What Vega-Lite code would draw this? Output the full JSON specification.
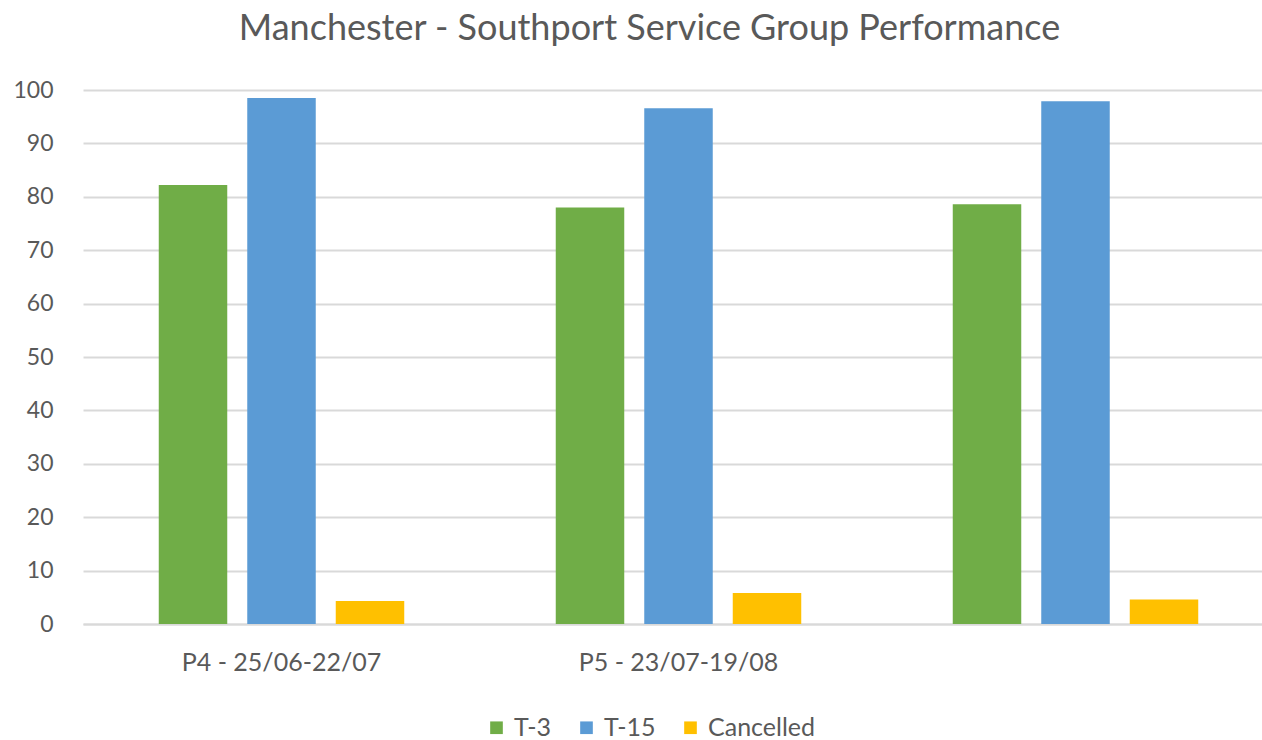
{
  "$schema": "https://vega.github.io/schema/vega-lite/v6.json",
  "autosize": {"type": "none"},
  "width": 1179,
  "height": 534,
  "padding": {"left": 83, "top": 90, "right": 0, "bottom": 116},
  "background": "white",
  "config": {
    "font": "Lato",
    "view": {"stroke": null}
  },
  "title": {
    "text": "Manchester - Southport Service Group Performance",
    "fontSize": 36,
    "font": "Lato",
    "fontWeight": "normal",
    "color": "#595959",
    "anchor": "middle",
    "dx": -23,
    "offset": 31
  },
  "data": {
    "values": [
      {"period": "P4 - 25/06-22/07", "series": "T-3", "value": 82.2},
      {"period": "P4 - 25/06-22/07", "series": "T-15", "value": 98.5},
      {"period": "P4 - 25/06-22/07", "series": "Cancelled", "value": 4.3},
      {"period": "P5 - 23/07-19/08", "series": "T-3", "value": 78.0},
      {"period": "P5 - 23/07-19/08", "series": "T-15", "value": 96.6},
      {"period": "P5 - 23/07-19/08", "series": "Cancelled", "value": 5.8},
      {"period": " ", "series": "T-3", "value": 78.6},
      {"period": " ", "series": "T-15", "value": 97.9},
      {"period": " ", "series": "Cancelled", "value": 4.6}
    ]
  },
  "mark": {"type": "bar"},
  "encoding": {
    "x": {
      "field": "period",
      "type": "nominal",
      "sort": null,
      "scale": {"range": [0, 1191], "paddingInner": 0, "paddingOuter": 0},
      "axis": {
        "title": null,
        "labelAngle": 0,
        "labelFontSize": 25,
        "labelLimit": 500,
        "labelColor": "#595959",
        "labelPadding": 26,
        "ticks": false,
        "domainColor": "#d9d9d9",
        "domainWidth": 2
      }
    },
    "xOffset": {
      "field": "series",
      "type": "nominal",
      "sort": ["T-3", "T-15", "Cancelled"],
      "scale": {"paddingInner": 0.226, "paddingOuter": 0.856}
    },
    "y": {
      "field": "value",
      "type": "quantitative",
      "scale": {"domain": [0, 100]},
      "axis": {
        "title": null,
        "values": [0, 10, 20, 30, 40, 50, 60, 70, 80, 90, 100],
        "labelFontSize": 23,
        "labelColor": "#595959",
        "labelPadding": 30,
        "ticks": false,
        "domain": false,
        "gridColor": "#d9d9d9",
        "gridWidth": 2
      }
    },
    "color": {
      "field": "series",
      "type": "nominal",
      "sort": ["T-3", "T-15", "Cancelled"],
      "scale": {"domain": ["T-3", "T-15", "Cancelled"], "range": ["#70ad47", "#5b9bd5", "#ffc000"]},
      "legend": {
        "title": null,
        "orient": "none",
        "direction": "horizontal",
        "legendX": 401,
        "legendY": 625,
        "symbolType": "square",
        "symbolSize": 160,
        "symbolStrokeWidth": 0,
        "labelFontSize": 25,
        "labelColor": "#595959",
        "columnPadding": 22,
        "labelOffset": 5
      }
    }
  }
}
